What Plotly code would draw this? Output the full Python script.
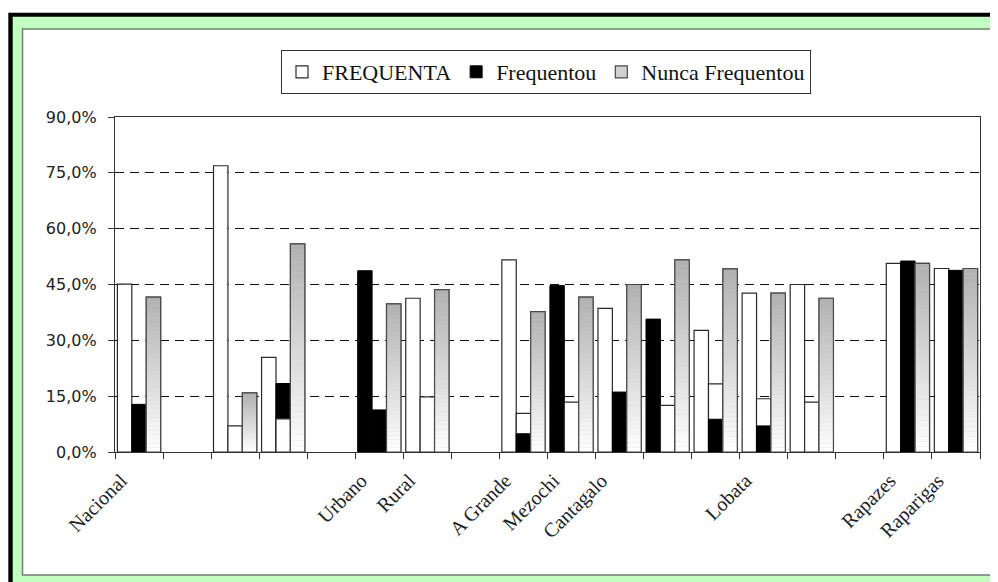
import plotly.graph_objects as go

# page body has an 8px margin, so the figure starts at (8, 8) in the window
OFF = 8
W, H = 998 - OFF, 582 - OFF
ML, MR, MT, MB = 115 - OFF, 18, 117 - OFF, 130

# ---------------- data ----------------
categories = ["Nacional", " ", "  ", "   ", "    ", "Urbano", "Rural", "     ",
              "A Grande", "Mezochi", "Cantagalo", "      ", "       ", "Lobata",
              "        ", "         ", "Rapazes", "Raparigas"]

# left column of each cluster
frequenta_left = [45.1, None, 76.9, 25.4, None, None, 41.3, None, 51.6, None,
                  38.6, None, 32.7, 42.7, 45.0, None, 50.7, 49.3]
frequentou_left = [None, None, None, None, None, 48.7, None, None, None, 44.7,
                   None, 35.7, None, None, None, None, None, None]
# middle column of each cluster
frequenta_mid = [None, None, 7.0, 8.9, None, None, 14.8, None, 10.4, 13.4,
                 None, 12.5, 18.3, 14.3, 13.4, None, None, None]
frequentou_mid = [12.8, None, None, 18.4, None, 11.3, None, None, 4.9, None,
                  16.1, None, 8.8, 7.0, None, None, 51.3, 48.8]
# right column of each cluster
nunca_frequentou = [41.6, None, 15.9, 55.9, None, 39.8, 43.6, None, 37.7, 41.6,
                    45.0, 51.6, 49.2, 42.7, 41.3, None, 50.7, 49.3]

y_ticks = [0, 15, 30, 45, 60, 75, 90]
y_tick_labels = ["0,0%", "15,0%", "30,0%", "45,0%", "60,0%", "75,0%", "90,0%"]
legend_names = ["FREQUENTA", "Frequentou", "Nunca Frequentou"]

# ---------------- helpers (window pixel -> paper coords) ----------------
def px_x(px):
    return (px - OFF - ML) / (W - ML - MR)

def px_y(py):
    return (H - MB - (py - OFF)) / (H - MT - MB)

WHITE_LINE = dict(color="#2a2a2a", width=1.2)
BLACK_LINE = dict(color="#000000", width=1)
GRAY_LINE = dict(color="#4a4a4a", width=1.2)

fig = go.Figure()

def add_bar(vals, group, color, line, name=None, legend=False, rank=None, base=None):
    fig.add_trace(go.Bar(
        x=categories, y=vals, base=base, offsetgroup=group,
        marker=dict(color=color, line=line),
        name=name if name else "", showlegend=legend,
        legendrank=rank if rank else 1000, hoverinfo="skip",
    ))

# left column
add_bar(frequenta_left, "L", "#ffffff", WHITE_LINE, legend_names[0], True, 1)
add_bar(frequentou_left, "L", "#000000", BLACK_LINE)

# middle column: taller bar drawn behind the shorter one
def pick(a, b, cond):
    return [x if (x is not None and cond(x, y)) else None for x, y in zip(a, b)]

mid_white_back = pick(frequenta_mid, frequentou_mid, lambda w, k: k is None or w >= k)
mid_white_front = pick(frequenta_mid, frequentou_mid, lambda w, k: k is not None and w < k)
add_bar(mid_white_back, "M", "#ffffff", WHITE_LINE)
add_bar(frequentou_mid, "M", "#000000", BLACK_LINE, legend_names[1], True, 2)
add_bar(mid_white_front, "M", "#ffffff", WHITE_LINE)

# right column: vertical gradient (grey at top to white at bottom)
add_bar(nunca_frequentou, "R", "#d0d0d0", GRAY_LINE, legend_names[2], True, 3)
N = 36
top_rgb, bot_rgb = (176, 176, 176), (255, 255, 255)
for k in range(N):
    t = (k + 0.5) / N
    c = tuple(round(b + (tp - b) * t) for tp, b in zip(top_rgb, bot_rgb))
    seg = [v / N if v is not None else None for v in nunca_frequentou]
    base = [v * k / N if v is not None else None for v in nunca_frequentou]
    add_bar(seg, "R", "rgb(%d,%d,%d)" % c, dict(width=0), base=base)
add_bar(nunca_frequentou, "R", "rgba(0,0,0,0)", GRAY_LINE)

# ---------------- frame shapes ----------------
shapes = [
    dict(type="rect", xref="paper", yref="paper", layer="below",
         x0=px_x(8.3), x1=px_x(1020), y0=px_y(12.7), y1=px_y(620),
         fillcolor="#000000", line=dict(width=0)),
    dict(type="rect", xref="paper", yref="paper", layer="below",
         x0=px_x(12.7), x1=px_x(1020), y0=px_y(16.7), y1=px_y(620),
         fillcolor="#c0ffc0", line=dict(width=0)),
    dict(type="rect", xref="paper", yref="paper", layer="below",
         x0=px_x(22.5), x1=px_x(996.5), y0=px_y(29), y1=px_y(575),
         fillcolor="#ffffff", line=dict(color="#7a7a7a", width=1.5)),
]

fig.update_layout(
    template="none",
    width=W, height=H,
    margin=dict(l=ML, r=MR, t=MT, b=MB, autoexpand=False),
    paper_bgcolor="#ffffff", plot_bgcolor="rgba(0,0,0,0)",
    barmode="group", bargap=0.1, bargroupgap=0,
    shapes=shapes,
    showlegend=True,
    legend=dict(
        orientation="h", x=px_x(546), xanchor="center", y=px_y(50), yanchor="top",
        bgcolor="#ffffff", bordercolor="#333333", borderwidth=1,
        font=dict(family="Liberation Serif", size=22, color="#111111"),
        traceorder="normal", itemclick=False, itemdoubleclick=False,
        entrywidthmode="pixels", itemwidth=30,
    ),
    xaxis=dict(
        type="category", categoryorder="array", categoryarray=categories,
        automargin=False,
        tickson="boundaries", ticks="outside", ticklen=6, tickcolor="#333333",
        tickangle=-45, showline=True, linecolor="#333333", linewidth=1.2,
        mirror=True, showgrid=False, zeroline=False,
        ticklabelstandoff=8, ticklabelshift=-18,
        tickfont=dict(family="Liberation Serif", size=20, color="#222222"),
    ),
    yaxis=dict(
        range=[0, 90], tickmode="array", tickvals=y_ticks, ticktext=y_tick_labels,
        automargin=False,
        ticks="outside", ticklen=6, tickcolor="#333333",
        showline=True, linecolor="#333333", linewidth=1.2, mirror=True,
        showgrid=True, gridcolor="#111111", gridwidth=1, griddash="9px,6px",
        zeroline=False, ticklabelstandoff=8,
        tickfont=dict(family="DejaVu Sans", size=16, color="#222222"),
    ),
)

fig.write_html("out.html")
